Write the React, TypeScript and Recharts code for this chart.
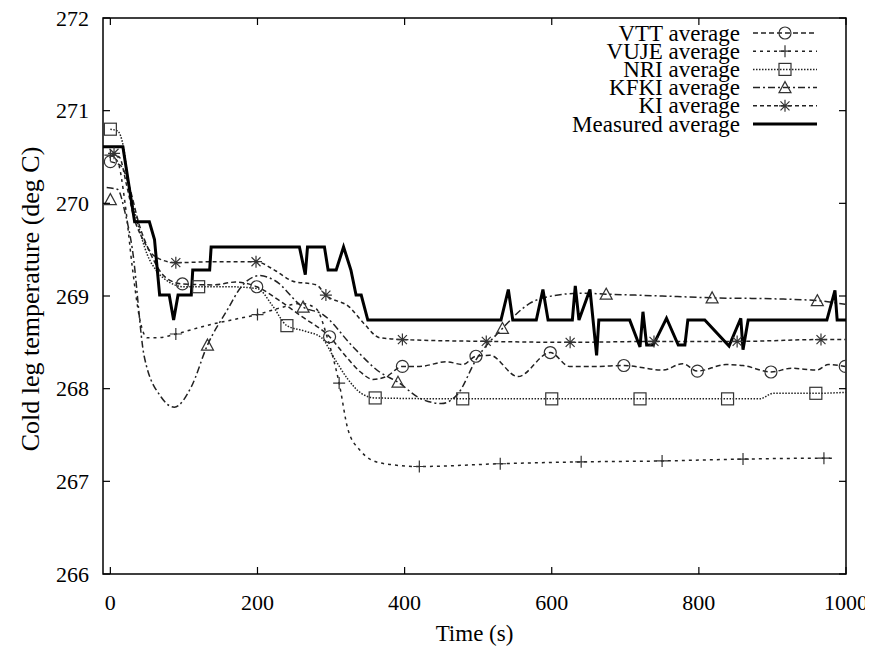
import { ComposedChart, Line, Scatter, XAxis, YAxis, ReferenceArea, Legend } from 'recharts';

const FONT = "'Liberation Serif', 'Times New Roman', 'DejaVu Serif', serif";
const W = 873;
const H = 654;
// plot box inside the svg
const BOX = { left: 103, top: 18, right: 846, bottom: 574 };
const TICK = 7;

const timeTicks = [0, 200, 400, 600, 800, 1000];
const tempTicks = [266, 267, 268, 269, 270, 271, 272];

// [time (s), temperature (deg C)]
const vttCurve = [
  [0, 270.45], [15, 270.4], [25, 270.2], [40, 269.75], [55, 269.45], [75, 269.2], [98, 269.13],
  [140, 269.12], [170, 269.15], [199, 269.1], [230, 268.95], [260, 268.78], [298, 268.56],
  [320, 268.35], [340, 268.18], [357, 268.1], [375, 268.13], [397, 268.24], [420, 268.24],
  [457, 268.29], [479, 268.26], [497, 268.35], [516, 268.36], [554, 268.13], [598, 268.39],
  [624, 268.24], [660, 268.24], [698, 268.25], [751, 268.2], [778, 268.27], [798, 268.19],
  [837, 268.26], [860, 268.25], [898, 268.18], [926, 268.22], [960, 268.2], [976, 268.26],
  [999, 268.24],
];
const vttMarks = [
  [0, 270.45], [98, 269.13], [199, 269.1], [298, 268.56], [397, 268.24], [497, 268.35],
  [598, 268.39], [698, 268.25], [798, 268.19], [898, 268.18], [999, 268.24],
];

const vujeCurve = [
  [0, 270.52], [10, 270.45], [20, 270.0], [30, 269.3], [40, 268.75], [50, 268.55], [65, 268.55],
  [89, 268.59], [130, 268.68], [170, 268.75], [200, 268.8], [230, 268.87], [260, 268.92],
  [280, 268.86], [295, 268.55], [311, 268.06], [323, 267.56], [340, 267.33], [355, 267.23],
  [382, 267.18], [420, 267.16], [530, 267.19], [640, 267.21], [750, 267.22], [860, 267.24],
  [970, 267.25], [986, 267.25],
];
const vujeMarks = [
  [0, 270.52], [89, 268.59], [200, 268.8], [311, 268.06], [420, 267.16], [530, 267.19],
  [640, 267.21], [750, 267.22], [860, 267.24], [970, 267.25],
];

const nriCurve = [
  [0, 270.8], [10, 270.78], [18, 270.6], [25, 270.2], [37, 269.79], [50, 269.45], [62, 269.28],
  [80, 269.15], [100, 269.1], [120, 269.1], [160, 269.1], [200, 269.08], [220, 268.9],
  [240, 268.68], [265, 268.62], [287, 268.55], [305, 268.32], [323, 268.1], [341, 267.95],
  [360, 267.9], [479, 267.89], [600, 267.89], [720, 267.89], [839, 267.89], [883, 267.89],
  [901, 267.95], [959, 267.95], [1000, 267.96],
];
const nriMarks = [
  [0, 270.8], [120, 269.1], [240, 268.68], [360, 267.9], [479, 267.89], [600, 267.89],
  [720, 267.89], [839, 267.89], [959, 267.95],
];

const kfkiCurve = [
  [-5, 270.17], [10, 270.15], [20, 269.9], [30, 269.5], [46, 268.35], [69, 267.91], [87, 267.8],
  [110, 268.02], [132, 268.47], [159, 268.85], [178, 269.1], [203, 269.22], [223, 269.17],
  [262, 268.88], [289, 268.8], [330, 268.45], [366, 268.18], [391, 268.07], [420, 267.9],
  [450, 267.84], [473, 267.95], [497, 268.31], [533, 268.65], [570, 268.92], [600, 269.0],
  [640, 269.03], [674, 269.02], [750, 269.0], [818, 268.98], [900, 268.97], [961, 268.95],
  [999, 268.91],
];
const kfkiMarks = [
  [0, 270.04], [132, 268.47], [262, 268.88], [391, 268.07], [533, 268.65], [674, 269.02],
  [818, 268.98], [961, 268.95],
];

const kiCurve = [
  [0, 270.52], [12, 270.5], [22, 270.2], [32, 269.85], [45, 269.6], [62, 269.42], [89, 269.36],
  [140, 269.37], [198, 269.37], [225, 269.27], [248, 269.16], [280, 269.12], [293, 269.01],
  [325, 268.88], [345, 268.7], [366, 268.55], [397, 268.53], [511, 268.51], [625, 268.5],
  [739, 268.51], [852, 268.51], [966, 268.53], [999, 268.53],
];
const kiMarks = [
  [5, 270.54], [89, 269.36], [198, 269.37], [293, 269.01], [397, 268.53], [511, 268.51],
  [625, 268.5], [739, 268.51], [852, 268.51], [966, 268.53],
];

// measured average, drawn as straight segments
const measured = [
  [-10, 270.61], [17, 270.61], [33, 269.8], [53, 269.8], [60, 269.61], [67, 269.01], [80, 269.01],
  [86, 268.74], [92, 269.01], [110, 269.01], [112, 269.28], [135, 269.28], [137, 269.53],
  [257, 269.53], [265, 269.23], [268, 269.53], [291, 269.53], [296, 269.28], [307, 269.28],
  [317, 269.53], [327, 269.28], [334, 269.01], [341, 269.01], [350, 268.74], [531, 268.74],
  [541, 269.07], [547, 268.74], [579, 268.74], [588, 269.07], [595, 268.74], [628, 268.74],
  [632, 269.11], [637, 268.74], [652, 269.07], [661, 268.36], [664, 268.74], [706, 268.74],
  [720, 268.45], [724, 268.83], [729, 268.47], [738, 268.47], [756, 268.76], [772, 268.47],
  [781, 268.47], [785, 268.74], [808, 268.74], [841, 268.46], [857, 268.76], [860, 268.42],
  [867, 268.74], [974, 268.74], [985, 269.06], [988, 268.74], [1000, 268.74],
];

const rows = (pts: number[][]) => pts.map(([t, v]) => ({ t, v }));

type GlyphKind = 'circle' | 'plus' | 'square' | 'triangle' | 'star';

const models = [
  { name: 'VTT average', curve: vttCurve, marks: vttMarks, dash: '5 3', glyph: 'circle' as GlyphKind },
  { name: 'VUJE average', curve: vujeCurve, marks: vujeMarks, dash: '3 4', glyph: 'plus' as GlyphKind },
  { name: 'NRI average', curve: nriCurve, marks: nriMarks, dash: '1.5 1.5', glyph: 'square' as GlyphKind },
  { name: 'KFKI average', curve: kfkiCurve, marks: kfkiMarks, dash: '7 3 2 3', glyph: 'triangle' as GlyphKind },
  { name: 'KI average', curve: kiCurve, marks: kiMarks, dash: '4 3', glyph: 'star' as GlyphKind },
];

const textStyle = { fontFamily: FONT, fill: '#000' };

function Glyph({ kind, cx, cy }: { kind: GlyphKind; cx: number; cy: number }) {
  const st = { fill: 'none', stroke: '#333', strokeWidth: 1.2 };
  const s = 6;
  if (kind === 'circle') return <circle cx={cx} cy={cy} r={6} {...st} />;
  if (kind === 'plus') return <path d={`M${cx - s},${cy}H${cx + s}M${cx},${cy - s}V${cy + s}`} {...st} />;
  if (kind === 'square') return <rect x={cx - 6} y={cy - 6} width={12} height={12} {...st} />;
  if (kind === 'triangle') return <path d={`M${cx},${cy - 6}L${cx + 6},${cy + 5}L${cx - 6},${cy + 5}Z`} {...st} />;
  const d = 4.5;
  return (
    <path
      d={`M${cx - s},${cy}H${cx + s}M${cx},${cy - s}V${cy + s}M${cx - d},${cy - d}L${cx + d},${cy + d}M${cx - d},${cy + d}L${cx + d},${cy - d}`}
      {...st}
    />
  );
}

function TimeTick({ x, payload }: any) {
  return (
    <g>
      <line x1={x} y1={BOX.bottom} x2={x} y2={BOX.bottom - TICK} stroke="#000" strokeWidth={1.2} />
      <line x1={x} y1={BOX.top} x2={x} y2={BOX.top + TICK} stroke="#000" strokeWidth={1.2} />
      <text x={x} y={BOX.bottom + 28} textAnchor="middle" dominantBaseline="central"
        style={{ ...textStyle, fontSize: 22 }}>{payload.value}</text>
    </g>
  );
}

function TempTick({ y, payload }: any) {
  return (
    <g>
      <line x1={BOX.left} y1={y} x2={BOX.left + TICK} y2={y} stroke="#000" strokeWidth={1.2} />
      <line x1={BOX.right} y1={y} x2={BOX.right - TICK} y2={y} stroke="#000" strokeWidth={1.2} />
      <text x={BOX.left - 14} y={y} textAnchor="end" dominantBaseline="central"
        style={{ ...textStyle, fontSize: 22 }}>{payload.value}</text>
    </g>
  );
}

function KeyBox() {
  const textRight = 740;
  const x1 = 753;
  const x2 = 817;
  const rowY = (i: number) => 33 + i * 18.2;
  return (
    <svg width={W} height={150} style={{ position: 'absolute', left: 0, top: 0 }}>
      {models.map((m, i) => (
        <g key={m.name}>
          <text x={textRight} y={rowY(i)} textAnchor="end" dominantBaseline="central"
            style={{ ...textStyle, fontSize: 23 }}>{m.name}</text>
          <line x1={x1} y1={rowY(i)} x2={x2} y2={rowY(i)} stroke="#222" strokeWidth={1.5}
            strokeDasharray={m.dash} />
          <Glyph kind={m.glyph} cx={(x1 + x2) / 2} cy={rowY(i)} />
        </g>
      ))}
      <text x={textRight} y={rowY(5)} textAnchor="end" dominantBaseline="central"
        style={{ ...textStyle, fontSize: 23 }}>Measured average</text>
      <line x1={x1} y1={rowY(5)} x2={x2} y2={rowY(5)} stroke="#000" strokeWidth={3} />
    </svg>
  );
}

export default function App() {
  const midY = (BOX.top + BOX.bottom) / 2 + 3;
  return (
    <div style={{ margin: -8, width: W, height: H }}>
      <ComposedChart width={W} height={H} margin={{ top: BOX.top, right: W - BOX.right, bottom: 0, left: 0 }}>
        <XAxis
          dataKey="t"
          type="number"
          domain={[-10, 1000]}
          ticks={timeTicks}
          allowDataOverflow
          height={H - BOX.bottom}
          axisLine={false}
          tickLine={false}
          tick={<TimeTick />}
          label={{
            content: () => (
              <text x={(BOX.left + BOX.right) / 2} y={633} textAnchor="middle" dominantBaseline="central"
                style={{ ...textStyle, fontSize: 23 }}>Time (s)</text>
            ),
          }}
        />
        <YAxis
          type="number"
          domain={[266, 272]}
          ticks={tempTicks}
          allowDataOverflow
          width={BOX.left}
          axisLine={false}
          tickLine={false}
          tick={<TempTick />}
          label={{
            content: () => (
              <text x={30} y={midY} textAnchor="middle" dominantBaseline="central"
                transform={`rotate(-90 30 ${midY})`}
                style={{ ...textStyle, fontSize: 26 }}>Cold leg temperature (deg C)</text>
            ),
          }}
        />
        <ReferenceArea x1={-10} x2={1000} y1={266} y2={272} fill="none" stroke="#000" strokeWidth={1.5} />
        {models.map((m) => (
          <Line
            key={m.name}
            data={rows(m.curve)}
            dataKey="v"
            type="monotone"
            stroke="#222"
            strokeWidth={1.5}
            strokeDasharray={m.dash}
            dot={false}
            activeDot={false}
            isAnimationActive={false}
            legendType="none"
          />
        ))}
        {models.map((m) => (
          <Scatter
            key={`${m.name}-marks`}
            data={rows(m.marks)}
            dataKey="v"
            isAnimationActive={false}
            legendType="none"
            shape={(p: any) => <Glyph kind={m.glyph} cx={p.cx} cy={p.cy} />}
          />
        ))}
        <Line
          data={rows(measured)}
          dataKey="v"
          type="linear"
          stroke="#000"
          strokeWidth={3}
          strokeLinejoin="miter"
          dot={false}
          activeDot={false}
          isAnimationActive={false}
          legendType="none"
        />
        <Legend
          layout="vertical"
          align="center"
          verticalAlign="middle"
          wrapperStyle={{ top: 0, left: 0, width: W, height: 150 }}
          content={() => <KeyBox />}
        />
      </ComposedChart>
    </div>
  );
}
